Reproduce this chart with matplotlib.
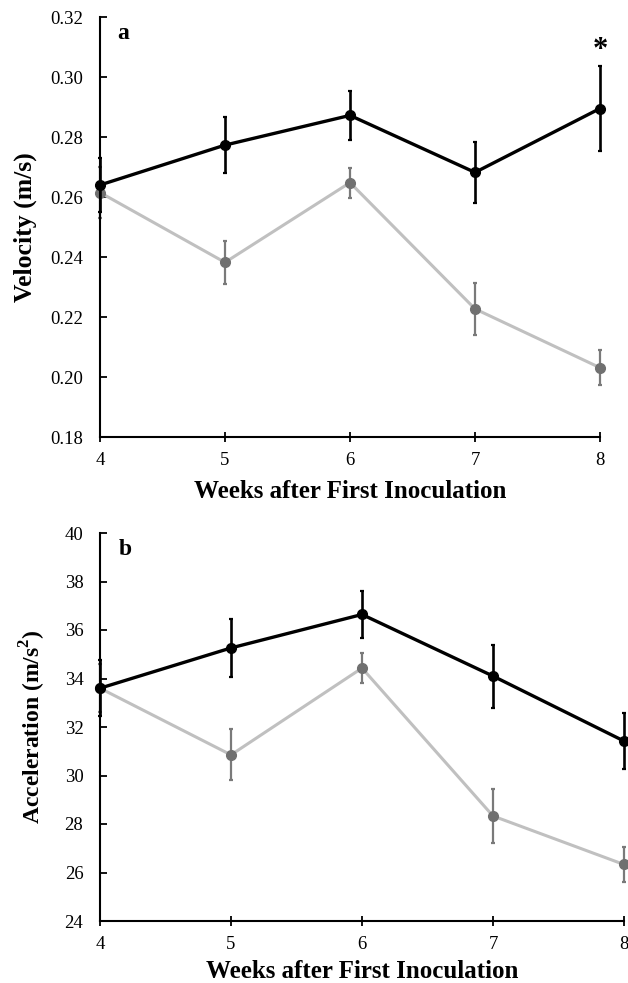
import matplotlib.pyplot as plt

plt.rcParams['font.family'] = ['Liberation Serif', 'DejaVu Serif']

weeks = [4, 5, 6, 7, 8]

vel_black = [0.264, 0.2773, 0.2872, 0.2682, 0.2895]
vel_black_err = [0.009, 0.0093, 0.0083, 0.0103, 0.0143]
vel_gray = [0.2615, 0.2382, 0.2648, 0.2227, 0.2031]
vel_gray_err = [0.0085, 0.0073, 0.005, 0.0087, 0.0058]

acc_black = [33.6, 35.26, 36.64, 34.1, 31.42]
acc_black_err = [1.15, 1.2, 0.97, 1.3, 1.15]
acc_gray = [33.6, 30.85, 34.43, 28.33, 26.33]
acc_gray_err = [1.0, 1.05, 0.62, 1.1, 0.72]

fig = plt.figure(figsize=(6.28, 9.83), dpi=100)
W, H = 628, 983
ax1 = fig.add_axes([100 / W, 1 - 437 / H, 500 / W, 420 / H])
ax2 = fig.add_axes([100 / W, 1 - 921 / H, 524 / W, 388 / H])


def draw(ax, yb, eb, yg, eg, xpad):
    ax.errorbar(weeks, yg, yerr=eg, color='#c0c0c0', lw=2.2, marker='o', ms=7,
                mfc='#707070', mec='#707070', ecolor='#7a7a7a', elinewidth=1.6,
                capsize=1.5, capthick=1.6, zorder=2, clip_on=False)
    ax.errorbar(weeks, yb, yerr=eb, color='black', lw=2.4, marker='o', ms=7,
                ecolor='black', elinewidth=1.9, capsize=1.5, capthick=1.6,
                zorder=3, clip_on=False)
    ax.set_xlim(4, 8)
    ax.set_xticks(weeks)
    for s in ['top', 'right']:
        ax.spines[s].set_visible(False)
    for s in ['left', 'bottom']:
        ax.spines[s].set_linewidth(1.5)
    ax.tick_params(axis='y', direction='in', length=5, width=1.3, labelsize=13.5, pad=12)
    ax.tick_params(axis='x', direction='inout', length=7, width=1.3, labelsize=13.5, pad=7)
    ax.set_xlabel('Weeks after First Inoculation', fontsize=18, fontweight='bold',
                  labelpad=xpad)


draw(ax1, vel_black, vel_black_err, vel_gray, vel_gray_err, 8)
ax1.set_ylim(0.18, 0.32)
ax1.set_yticks([0.18, 0.20, 0.22, 0.24, 0.26, 0.28, 0.30, 0.32])
ax1.set_yticklabels(['%.2f' % v for v in ax1.get_yticks()])
ax1.set_ylabel('Velocity (m/s)', fontsize=18.5, fontweight='bold', labelpad=10)
ax1.text(0.035, 0.985, 'a', transform=ax1.transAxes, fontsize=17,
         fontweight='bold', va='top')
ax1.text(8, 0.3088, '*', fontsize=22, fontweight='bold', ha='center', va='center')

draw(ax2, acc_black, acc_black_err, acc_gray, acc_gray_err, 5)
ax2.set_ylim(24, 40)
ax2.set_yticks(range(24, 41, 2))
ax2.set_ylabel('Acceleration (m/s$^\\mathregular{2}$)', fontsize=17, fontweight='bold',
               labelpad=12)
ax2.text(0.035, 0.985, 'b', transform=ax2.transAxes, fontsize=17,
         fontweight='bold', va='top')

fig.savefig('out.png', dpi=100)
